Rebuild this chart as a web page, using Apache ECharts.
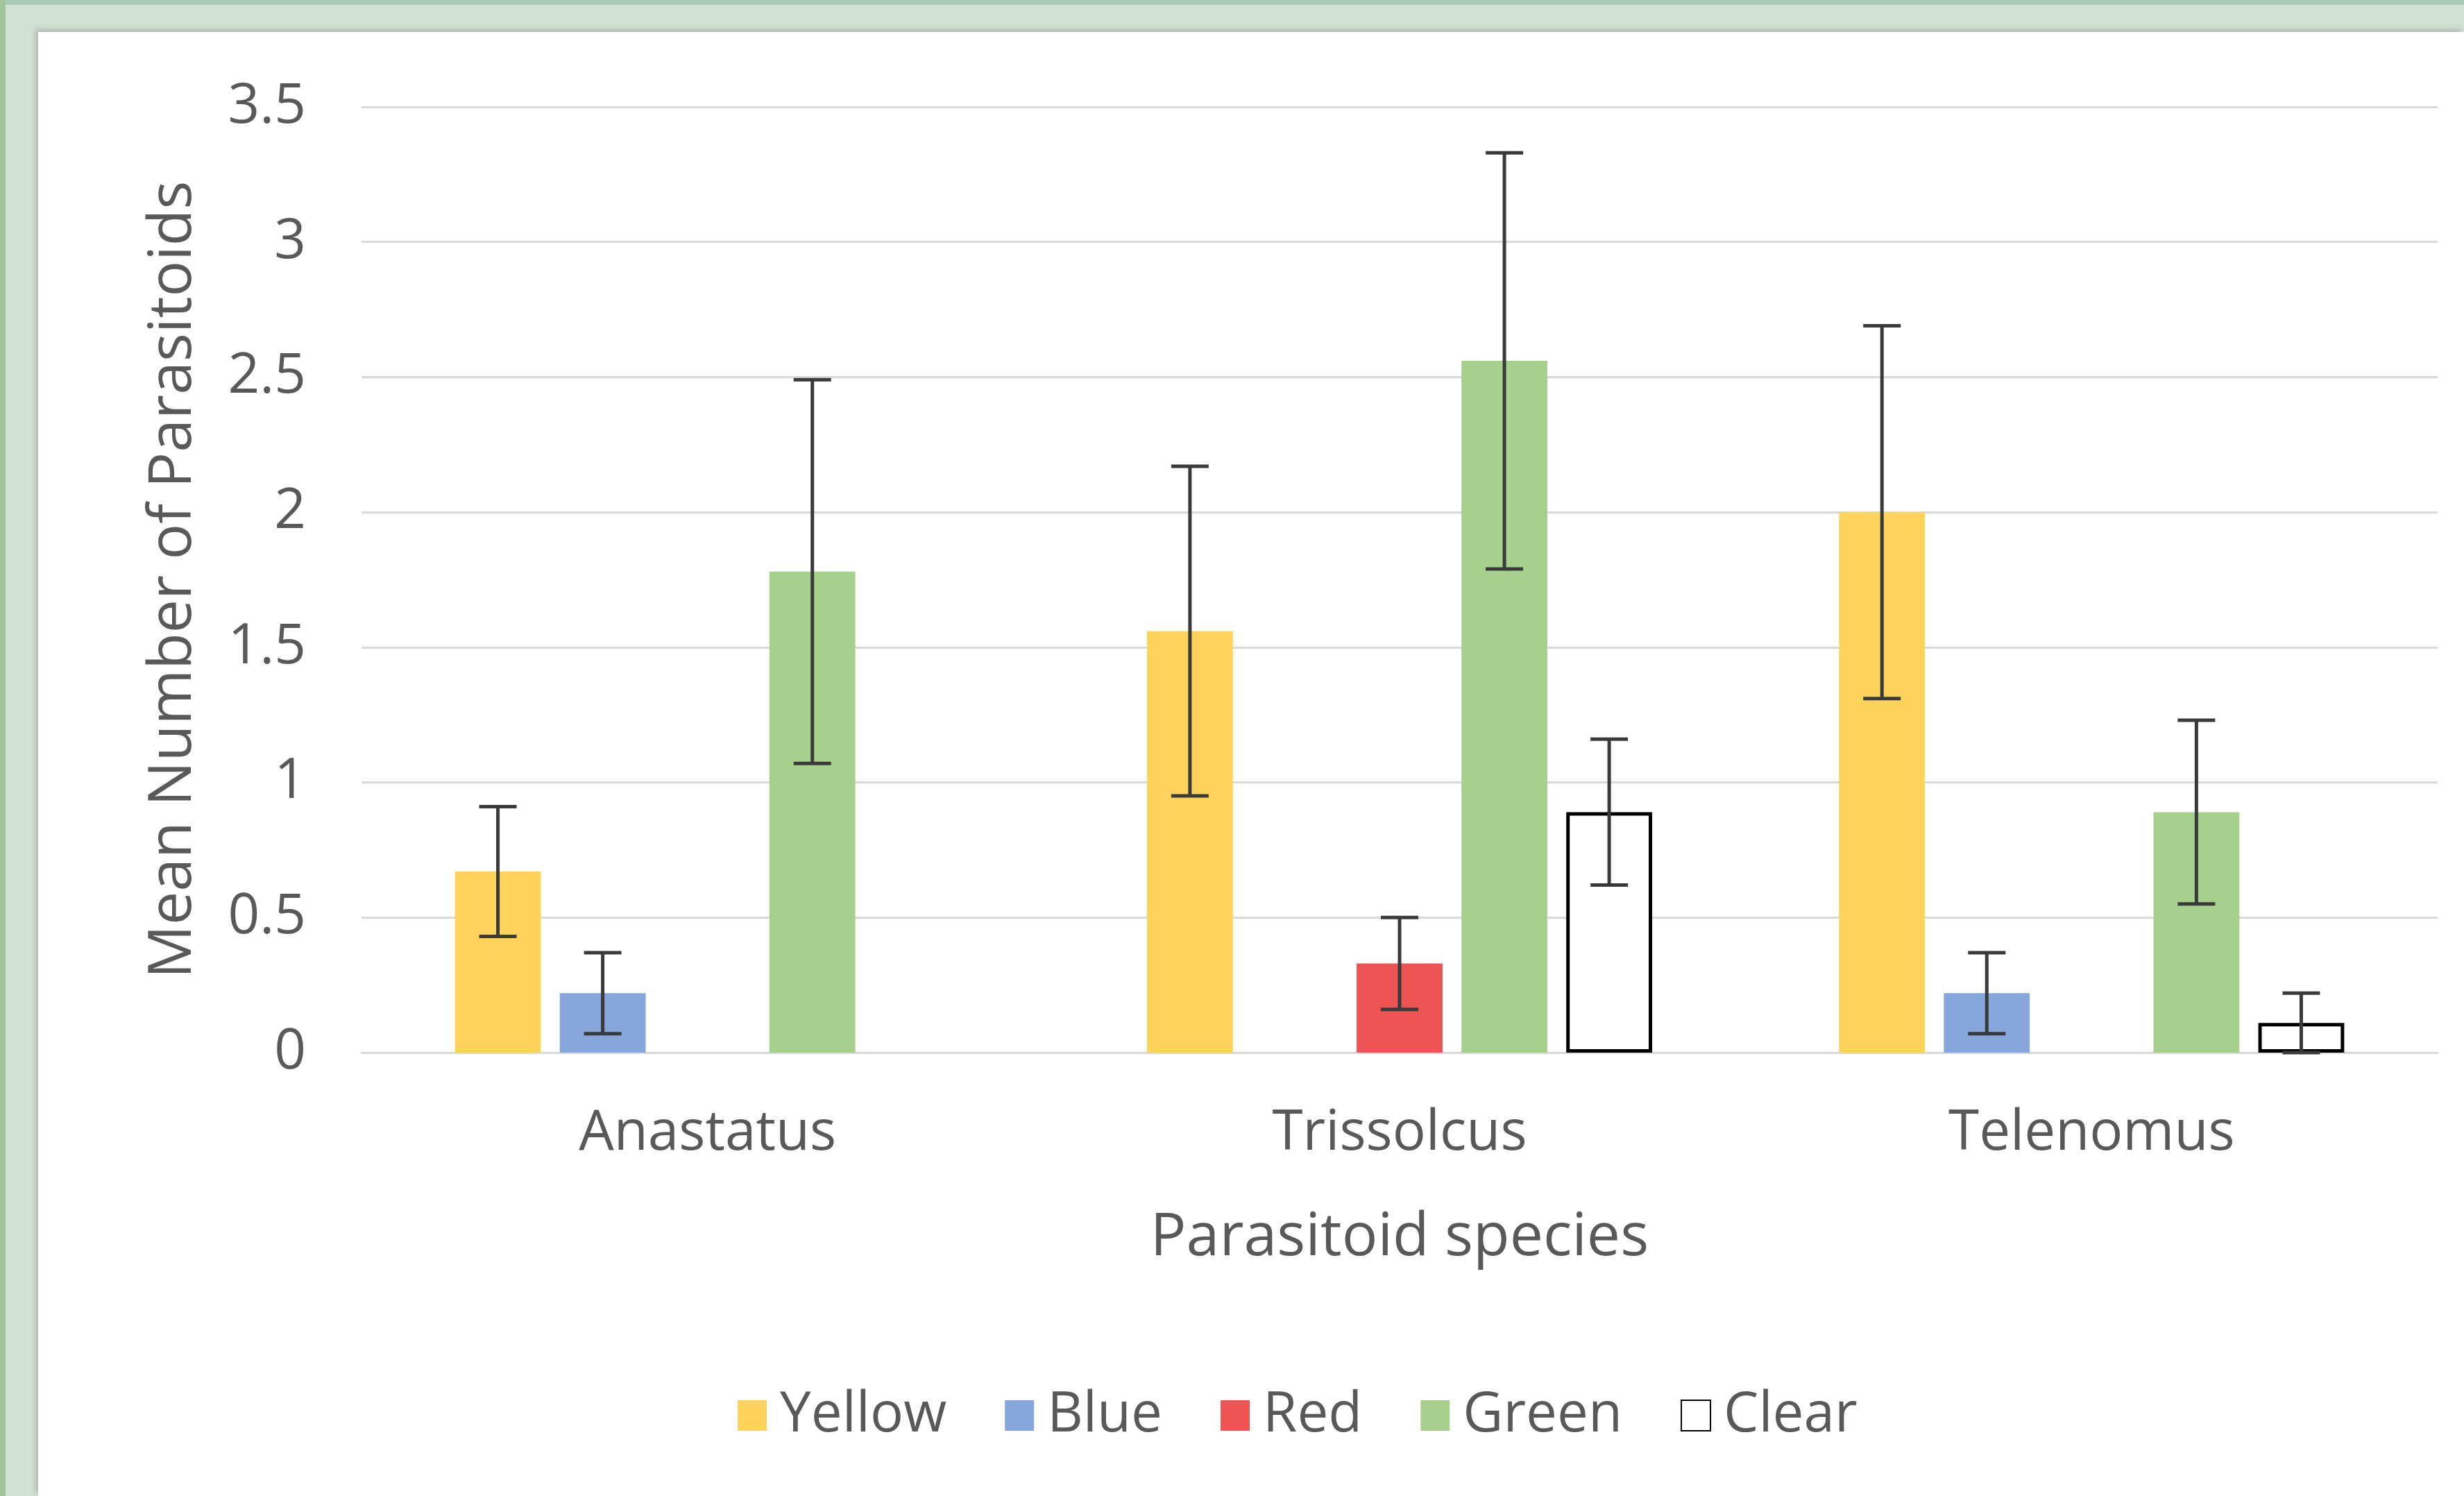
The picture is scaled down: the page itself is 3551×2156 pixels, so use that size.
<!DOCTYPE html>
<html>
<head>
<meta charset="utf-8">
<script src="https://cdn.jsdelivr.net/npm/echarts@6/dist/echarts.min.js"></script>
<style>
  html, body { margin: 0; padding: 0; width: 3551px; height: 2156px; overflow: hidden; background: #d2e1d6; }
  #bt { position: absolute; left: 0; top: 0; width: 3551px; height: 7px; background: #abc9b6; }
  #bl { position: absolute; left: 0; top: 0; width: 8px; height: 2156px; background: #a3c59e; }
  #panel { position: absolute; left: 55px; top: 46px; right: 0; bottom: 0; background: #ffffff;
           box-shadow: -4px -4px 8px rgba(0,0,0,0.18); }
  #chart { position: absolute; left: 0; top: 0; width: 3551px; height: 2156px; }
</style>
</head>
<body>
<div id="bt"></div>
<div id="bl"></div>
<div id="panel"></div>
<div id="chart"></div>
<script>
const categories = ['Anastatus', 'Trissolcus', 'Telenomus'];
const seriesNames = ['Yellow', 'Blue', 'Red', 'Green', 'Clear'];
const yellow = [0.67, 1.56, 2.0];
const blue   = [0.22, null, 0.22];
const red    = [null, 0.33, null];
const green  = [1.78, 2.56, 0.89];
const clear  = [null, 0.89, 0.11];
const yellowErr = [0.24, 0.61, 0.69];
const blueErr   = [0.15, null, 0.15];
const redErr    = [null, 0.17, null];
const greenErr  = [0.71, 0.77, 0.34];
const clearErr  = [null, 0.27, 0.11];
const yTicks = { min: 0, max: 3.5, interval: 0.5 };

const values = [yellow, blue, red, green, clear];
const errors = [yellowErr, blueErr, redErr, greenErr, clearErr];
const styles = [
  { color: '#fdd35b' },
  { color: '#86a6dc' },
  { color: '#ee5454' },
  { color: '#a7d08c' },
  { color: '#ffffff', borderColor: '#000000', borderWidth: 5 }
];

const CAT_GAP = 0.27, BAR_GAP = 0.22, N = 5;
const textColor = '#595959';
const FONT = 'Open Sans';

const barSeries = seriesNames.map((name, k) => ({
  name: name,
  type: 'bar',
  barGap: (BAR_GAP * 100) + '%',
  barCategoryGap: (CAT_GAP * 100) + '%',
  itemStyle: styles[k],
  data: values[k].map(v => v == null ? '-' : v),
  z: 2
}));

const errSeries = seriesNames.map((name, k) => ({
  name: name + ' error',
  type: 'custom',
  z: 5,
  encode: { x: 0, y: [1, 2] },
  data: values[k].map((v, i) => v == null ? null : [i, Math.max(0, v - errors[k][i]), v + errors[k][i]]).filter(d => d),
  renderItem: function (params, api) {
    const cat = api.value(0);
    const lo = api.coord([cat, api.value(1)]);
    const hi = api.coord([cat, api.value(2)]);
    const band = api.size([1, 0])[0];
    const groupW = band * (1 - CAT_GAP);
    const w = groupW / (N + (N - 1) * BAR_GAP);
    const x = lo[0] - groupW / 2 + k * w * (1 + BAR_GAP) + w / 2;
    const cap = 27;
    const st = { stroke: '#3a3a3a', lineWidth: 5 };
    return {
      type: 'group',
      children: [
        { type: 'line', shape: { x1: x, y1: lo[1], x2: x, y2: hi[1] }, style: st },
        { type: 'line', shape: { x1: x - cap, y1: hi[1], x2: x + cap, y2: hi[1] }, style: st },
        { type: 'line', shape: { x1: x - cap, y1: lo[1], x2: x + cap, y2: lo[1] }, style: st }
      ]
    };
  }
}));

const chart = echarts.init(document.getElementById('chart'), null, { renderer: 'canvas' });
chart.setOption({
  backgroundColor: 'transparent',
  animation: false,
  textStyle: { fontFamily: FONT, color: textColor },
  grid: { left: 521, right: 38, top: 154, bottom: 639, containLabel: false },
  legend: {
    data: seriesNames,
    left: 1058,
    top: 1995,
    icon: 'rect',
    itemWidth: 42,
    itemHeight: 44,
    itemGap: 84,
    textStyle: { fontFamily: FONT, fontSize: 80, color: textColor, padding: [0, 0, 0, 14] }
  },
  xAxis: {
    type: 'category',
    data: categories,
    name: 'Parasitoid species',
    nameLocation: 'middle',
    nameGap: 224,
    nameTextStyle: { fontFamily: FONT, fontSize: 86, color: textColor },
    axisLine: { show: true, lineStyle: { color: '#d9d9d9', width: 3 } },
    axisTick: { show: false },
    axisLabel: { fontFamily: FONT, fontSize: 80, color: textColor, margin: 77 },
    splitLine: { show: false }
  },
  yAxis: {
    type: 'value',
    min: yTicks.min,
    max: yTicks.max,
    interval: yTicks.interval,
    name: 'Mean Number of Parasitoids',
    nameLocation: 'middle',
    nameGap: 228,
    nameTextStyle: { fontFamily: FONT, fontSize: 86, color: textColor },
    axisLine: { show: false },
    axisTick: { show: false },
    axisLabel: { fontFamily: FONT, fontSize: 80, color: textColor, margin: 80 },
    splitLine: { show: true, lineStyle: { color: '#d9d9d9', width: 3 } }
  },
  series: barSeries.concat(errSeries)
});
</script>
</body>
</html>
